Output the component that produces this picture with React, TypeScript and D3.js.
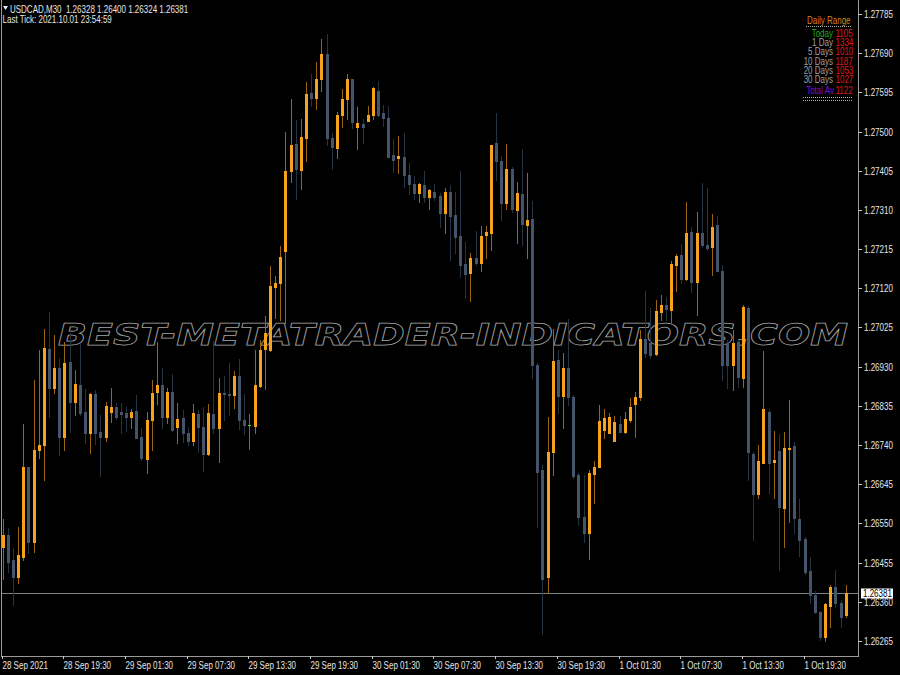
import React from 'react';
import * as d3 from 'd3';

// ---- Data (USDCAD M30, bars from 28 Sep 13:30 to 1 Oct 23:30) ----
const opens = [
  1.26493, 1.26522, 1.26462, 1.26420, 1.26469, 1.26687, 1.26505, 1.26728, 1.26740, 1.26973,
  1.26878, 1.26927, 1.26760, 1.26941, 1.26845, 1.26886, 1.26820, 1.26769, 1.26864, 1.26772,
  1.26760, 1.26820, 1.26832, 1.26820, 1.26818, 1.26808, 1.26823, 1.26760, 1.26706, 1.26801,
  1.26869, 1.26886, 1.26808, 1.26869, 1.26784, 1.26806, 1.26769, 1.26750, 1.26815, 1.26784,
  1.26718, 1.26815, 1.26781, 1.26866, 1.26864, 1.26861, 1.26908, 1.26801, 1.26789, 1.26786,
  1.26883, 1.26973, 1.26971, 1.27123, 1.27133, 1.27211, 1.27404, 1.27470, 1.27407, 1.27484,
  1.27594, 1.27581, 1.27627, 1.27688, 1.27484, 1.27460, 1.27540, 1.27579, 1.27627, 1.27511,
  1.27518, 1.27526, 1.27540, 1.27598, 1.27545, 1.27533, 1.27443, 1.27436, 1.27438, 1.27395,
  1.27373, 1.27351, 1.27371, 1.27341, 1.27354, 1.27344, 1.27303, 1.27354, 1.27298, 1.27247,
  1.27179, 1.27157, 1.27194, 1.27181, 1.27249, 1.27254, 1.27472, 1.27429, 1.27327, 1.27409,
  1.27310, 1.27349, 1.27274, 1.27288, 1.26934, 1.26680, 1.26420, 1.26723, 1.26946, 1.26859,
  1.26927, 1.26857, 1.26668, 1.26566, 1.26527, 1.26670, 1.26687, 1.26777, 1.26769, 1.26750,
  1.26791, 1.26772, 1.26801, 1.26840, 1.26857, 1.26997, 1.26988, 1.26961, 1.27063, 1.27080,
  1.27068, 1.27177, 1.27201, 1.27143, 1.27257, 1.27135, 1.27254, 1.27225, 1.27220, 1.27274,
  1.27162, 1.26988, 1.26934, 1.26990, 1.26903, 1.27072, 1.26718, 1.26622, 1.26697, 1.26820,
  1.26699, 1.26726, 1.26588, 1.26731, 1.26738, 1.26561, 1.26512, 1.26435, 1.26377, 1.26336,
  1.26275, 1.26350, 1.26396, 1.26357, 1.26328,
];
const highs = [
  1.26561, 1.26539, 1.26491, 1.26542, 1.26791, 1.26687, 1.26898, 1.26971, 1.27021, 1.27063,
  1.27007, 1.26951, 1.26990, 1.27012, 1.26922, 1.26988, 1.26876, 1.26866, 1.26874, 1.26813,
  1.26845, 1.26878, 1.26842, 1.26842, 1.26832, 1.26828, 1.26861, 1.26781, 1.26820, 1.26898,
  1.26990, 1.26927, 1.26878, 1.26912, 1.26842, 1.26825, 1.26784, 1.26840, 1.26825, 1.26832,
  1.26840, 1.26992, 1.26903, 1.26908, 1.26939, 1.26920, 1.26949, 1.26864, 1.26815, 1.26971,
  1.26995, 1.27053, 1.27174, 1.27150, 1.27223, 1.27499, 1.27579, 1.27528, 1.27530, 1.27620,
  1.27640, 1.27669, 1.27724, 1.27737, 1.27497, 1.27547, 1.27603, 1.27640, 1.27627, 1.27560,
  1.27530, 1.27562, 1.27608, 1.27623, 1.27564, 1.27562, 1.27482, 1.27489, 1.27497, 1.27424,
  1.27392, 1.27375, 1.27404, 1.27361, 1.27373, 1.27351, 1.27363, 1.27371, 1.27354, 1.27404,
  1.27232, 1.27206, 1.27259, 1.27271, 1.27271, 1.27467, 1.27545, 1.27441, 1.27470, 1.27414,
  1.27378, 1.27458, 1.27400, 1.27332, 1.26939, 1.26692, 1.26808, 1.27021, 1.26971, 1.26963,
  1.27046, 1.26861, 1.26672, 1.26668, 1.26680, 1.26702, 1.26837, 1.26828, 1.26818, 1.26811,
  1.26811, 1.26820, 1.26854, 1.26869, 1.27019, 1.27114, 1.27072, 1.27092, 1.27104, 1.27099,
  1.27186, 1.27203, 1.27228, 1.27329, 1.27269, 1.27305, 1.27375, 1.27363, 1.27300, 1.27295,
  1.27177, 1.26995, 1.27019, 1.26995, 1.27080, 1.27077, 1.26723, 1.26740, 1.26968, 1.26828,
  1.26774, 1.26767, 1.26772, 1.26849, 1.26748, 1.26609, 1.26517, 1.26469, 1.26386, 1.26338,
  1.26357, 1.26401, 1.26437, 1.26365, 1.26400,
];
const lows = [
  1.26415, 1.26432, 1.26352, 1.26406, 1.26462, 1.26478, 1.26481, 1.26709, 1.26655, 1.26808,
  1.26866, 1.26716, 1.26728, 1.26772, 1.26813, 1.26813, 1.26745, 1.26721, 1.26743, 1.26665,
  1.26750, 1.26796, 1.26803, 1.26769, 1.26774, 1.26781, 1.26757, 1.26704, 1.26672, 1.26728,
  1.26840, 1.26781, 1.26794, 1.26774, 1.26745, 1.26748, 1.26740, 1.26740, 1.26723, 1.26677,
  1.26716, 1.26769, 1.26699, 1.26801, 1.26813, 1.26830, 1.26779, 1.26767, 1.26731, 1.26769,
  1.26881, 1.26876, 1.26968, 1.27048, 1.27043, 1.27036, 1.27378, 1.27337, 1.27361, 1.27429,
  1.27562, 1.27555, 1.27598, 1.27467, 1.27409, 1.27436, 1.27511, 1.27530, 1.27509, 1.27458,
  1.27472, 1.27526, 1.27530, 1.27538, 1.27514, 1.27438, 1.27402, 1.27400, 1.27366, 1.27349,
  1.27337, 1.27329, 1.27329, 1.27312, 1.27334, 1.27269, 1.27254, 1.27189, 1.27206, 1.27148,
  1.27097, 1.27089, 1.27177, 1.27162, 1.27194, 1.27213, 1.27383, 1.27286, 1.27312, 1.27305,
  1.27230, 1.27225, 1.27194, 1.26903, 1.26542, 1.26282, 1.26382, 1.26668, 1.26818, 1.26781,
  1.26837, 1.26660, 1.26546, 1.26505, 1.26464, 1.26600, 1.26687, 1.26757, 1.26769, 1.26750,
  1.26772, 1.26769, 1.26796, 1.26760, 1.26849, 1.26954, 1.26951, 1.26958, 1.27043, 1.27043,
  1.27038, 1.27114, 1.27133, 1.27140, 1.27111, 1.27055, 1.27220, 1.27213, 1.27152, 1.27162,
  1.26898, 1.26878, 1.26874, 1.26881, 1.26881, 1.26655, 1.26510, 1.26612, 1.26697, 1.26624,
  1.26612, 1.26437, 1.26493, 1.26554, 1.26527, 1.26471, 1.26428, 1.26357, 1.26333, 1.26268,
  1.26265, 1.26299, 1.26348, 1.26299, 1.26324,
];
const closes = [
  1.26522, 1.26457, 1.26420, 1.26474, 1.26687, 1.26505, 1.26728, 1.26740, 1.26975, 1.26878,
  1.26927, 1.26760, 1.26939, 1.26845, 1.26888, 1.26818, 1.26769, 1.26864, 1.26769, 1.26760,
  1.26835, 1.26832, 1.26808, 1.26815, 1.26808, 1.26820, 1.26757, 1.26709, 1.26801, 1.26866,
  1.26886, 1.26808, 1.26869, 1.26777, 1.26803, 1.26769, 1.26750, 1.26818, 1.26784, 1.26718,
  1.26818, 1.26781, 1.26866, 1.26864, 1.26861, 1.26908, 1.26801, 1.26789, 1.26789, 1.26886,
  1.26971, 1.27012, 1.27126, 1.27133, 1.27196, 1.27404, 1.27467, 1.27409, 1.27487, 1.27591,
  1.27581, 1.27627, 1.27688, 1.27484, 1.27463, 1.27540, 1.27579, 1.27627, 1.27523, 1.27521,
  1.27511, 1.27540, 1.27606, 1.27540, 1.27533, 1.27438, 1.27431, 1.27441, 1.27395, 1.27373,
  1.27351, 1.27373, 1.27341, 1.27358, 1.27341, 1.27303, 1.27354, 1.27295, 1.27244, 1.27177,
  1.27155, 1.27194, 1.27181, 1.27247, 1.27257, 1.27467, 1.27429, 1.27327, 1.27409, 1.27312,
  1.27351, 1.27276, 1.27286, 1.26934, 1.26675, 1.26415, 1.26723, 1.26944, 1.26859, 1.26927,
  1.26857, 1.26665, 1.26566, 1.26527, 1.26672, 1.26687, 1.26798, 1.26806, 1.26808, 1.26796,
  1.26772, 1.26803, 1.26832, 1.26857, 1.26997, 1.26963, 1.26958, 1.27065, 1.27080, 1.27070,
  1.27179, 1.27198, 1.27143, 1.27254, 1.27135, 1.27254, 1.27225, 1.27218, 1.27269, 1.27162,
  1.26934, 1.26934, 1.26988, 1.26905, 1.27075, 1.26723, 1.26622, 1.26702, 1.26828, 1.26697,
  1.26704, 1.26590, 1.26733, 1.26733, 1.26563, 1.26510, 1.26432, 1.26377, 1.26336, 1.26275,
  1.26355, 1.26396, 1.26357, 1.26323, 1.26381,
];

const timeLabels = [
  '28 Sep 2021', '28 Sep 19:30', '29 Sep 01:30', '29 Sep 07:30', '29 Sep 13:30',
  '29 Sep 19:30', '30 Sep 01:30', '30 Sep 07:30', '30 Sep 13:30', '30 Sep 19:30',
  '1 Oct 01:30', '1 Oct 07:30', '1 Oct 13:30', '1 Oct 19:30',
];
const barsPerLabel = 12;

const priceTicks = [
  1.27785, 1.27690, 1.27595, 1.27500, 1.27405, 1.27310, 1.27215, 1.27120, 1.27025,
  1.26930, 1.26835, 1.26740, 1.26645, 1.26550, 1.26455, 1.26360, 1.26265,
];
const currentPrice = 1.26381;

const symbolName = 'USDCAD,M30';
const headerOHLC = [1.26328, 1.26400, 1.26324, 1.26381];
const lastTick = '2021.10.01 23:54:59';

const rangeTitle = 'Daily Range';
const rangeLabels = ['Today', '1 Day', '5 Days', '10 Days', '20 Days', '30 Days'];
const rangeValues = [1105, 1334, 1010, 1187, 1053, 1027];
const totalLabel = 'Total Av';
const totalValue = 1122;

const watermark = 'BEST-METATRADER-INDICATORS.COM';

// ---- Layout ----
const W = 900;
const H = 675;
const plotRight = 858;
const plotBottom = 656;
const FONT = 'Liberation Sans, Arial, sans-serif';

const T = ({ x, y, children, fill = '#e6e6e6', anchor = 'start', size = 10, sx = 0.8 }: any) => (
  <text
    transform={`translate(${x},${y}) scale(${sx},1)`}
    textAnchor={anchor}
    fontSize={size}
    fill={fill}
    fontFamily={FONT}
    style={{ whiteSpace: 'pre' }}
  >
    {children}
  </text>
);

export default function App() {
  const n = opens.length;
  const x = d3.scaleLinear().domain([0, n - 1]).range([2.7, 845.7]);
  const y = d3.scaleLinear().domain([1.26265, 1.27785]).range([641, 14]);

  const upBody = '#f7a21b';
  const upWick = '#9a6414';
  const dnBody = '#44546a';
  const dnWick = '#263340';
  const dojiBody = '#3fd43f';
  const dojiWick = '#1f9f1f';

  const rowY = rangeLabels.map((_, i) => 37 + i * 9.2);
  const priceY = Math.round(y(currentPrice)) + 0.5;

  return (
    <div style={{ position: 'absolute', left: 0, top: 0 }}>
      <svg width={W} height={H} style={{ display: 'block', background: '#000' }}>
        <rect x={0} y={0} width={W} height={H} fill="#000" />

        {/* watermark */}
        <text
          x={58}
          y={345}
          fontSize={30}
          fontWeight="bold"
          fontStyle="italic"
          fontFamily="DejaVu Sans, Liberation Sans, sans-serif"
          fill="none"
          stroke="#a4a4a4"
          strokeWidth={0.75}
          textLength={790}
          lengthAdjust="spacingAndGlyphs"
        >
          {watermark}
        </text>

        {/* current price line */}
        <line x1={1} x2={plotRight} y1={priceY} y2={priceY} stroke="#7a828a" strokeWidth={1} />

        {/* candles */}
        <g shapeRendering="crispEdges">
          {opens.map((o, i) => {
            const c = closes[i];
            const hi = highs[i];
            const lo = lows[i];
            const cx = Math.round(x(i));
            const doji = c === o;
            const up = c > o;
            const body = doji ? dojiBody : up ? upBody : dnBody;
            const wick = doji ? dojiWick : up ? upWick : dnWick;
            const yt = Math.round(y(Math.max(o, c)));
            const yb = Math.round(y(Math.min(o, c)));
            return (
              <g key={i}>
                <line
                  x1={cx + 0.5}
                  x2={cx + 0.5}
                  y1={Math.round(y(hi))}
                  y2={Math.round(y(lo)) + 1}
                  stroke={wick}
                  strokeWidth={1}
                />
                {doji ? (
                  <line x1={cx - 1} x2={cx + 2} y1={yt + 0.5} y2={yt + 0.5} stroke={body} strokeWidth={1} />
                ) : (
                  <rect x={cx - 1} y={yt} width={3} height={Math.max(1, yb - yt + 1)} fill={body} />
                )}
              </g>
            );
          })}
        </g>

        {/* frame */}
        <g stroke="#9a9a9a" strokeWidth={1} shapeRendering="crispEdges">
          <line x1={1.5} x2={1.5} y1={0} y2={plotBottom} />
          <line x1={plotRight + 0.5} x2={plotRight + 0.5} y1={0} y2={plotBottom + 1} />
          <line x1={1} x2={plotRight + 1} y1={plotBottom + 0.5} y2={plotBottom + 0.5} />
        </g>

        {/* y axis */}
        {priceTicks.map((p) => {
          const ty = Math.round(y(p)) + 0.5;
          return (
            <g key={p}>
              <line x1={plotRight} x2={plotRight + 4} y1={ty} y2={ty} stroke="#c8c8c8" shapeRendering="crispEdges" />
              <T x={864} y={ty + 3.6}>{p.toFixed(5)}</T>
            </g>
          );
        })}

        {/* current price label */}
        <rect x={861} y={priceY - 5} width={32} height={10} fill="#ffffff" />
        <T x={863} y={priceY + 3.6} fill="#000000">{currentPrice.toFixed(5)}</T>

        {/* x axis */}
        {timeLabels.map((lab, k) => {
          const tx = Math.round(x(k * barsPerLabel)) - 0.5;
          return (
            <g key={lab}>
              <line x1={tx} x2={tx} y1={plotBottom} y2={plotBottom + 3} stroke="#c8c8c8" shapeRendering="crispEdges" />
              <T x={Math.max(2, tx)} y={669}>{lab}</T>
            </g>
          );
        })}

        {/* header */}
        <path d="M3,6 L8,6 L5.5,10 Z" fill="#e8e8e8" />
        <T x={10} y={12.5}>{`${symbolName}  ${headerOHLC.map((v) => v.toFixed(5)).join(' ')}`}</T>
        <T x={2.5} y={22.5}>{`Last Tick: ${lastTick}`}</T>

        {/* daily range panel */}
        <T x={807} y={24.3} fill="#d9801a">{rangeTitle}</T>
        <line x1={806} x2={852} y1={26.5} y2={26.5} stroke="#b0b0b0" strokeDasharray="1,1" />
        {rangeLabels.map((lab, i) => (
          <g key={lab}>
            <T x={833} y={rowY[i]} anchor="end" fill={i === 0 ? '#22a822' : '#a0a0a0'}>{lab}</T>
            <T x={835.5} y={rowY[i]} fill="#e01818">{String(rangeValues[i])}</T>
          </g>
        ))}
        <T x={834} y={94} anchor="end" fill="#7a10d0">{totalLabel}</T>
        <T x={835.5} y={94} fill="#e01818">{String(totalValue)}</T>
        <line x1={803} x2={852} y1={97.5} y2={97.5} stroke="#b0b0b0" strokeDasharray="1,1" />
        <line x1={803} x2={852} y1={100.5} y2={100.5} stroke="#b0b0b0" strokeDasharray="1,1" />
      </svg>
    </div>
  );
}
